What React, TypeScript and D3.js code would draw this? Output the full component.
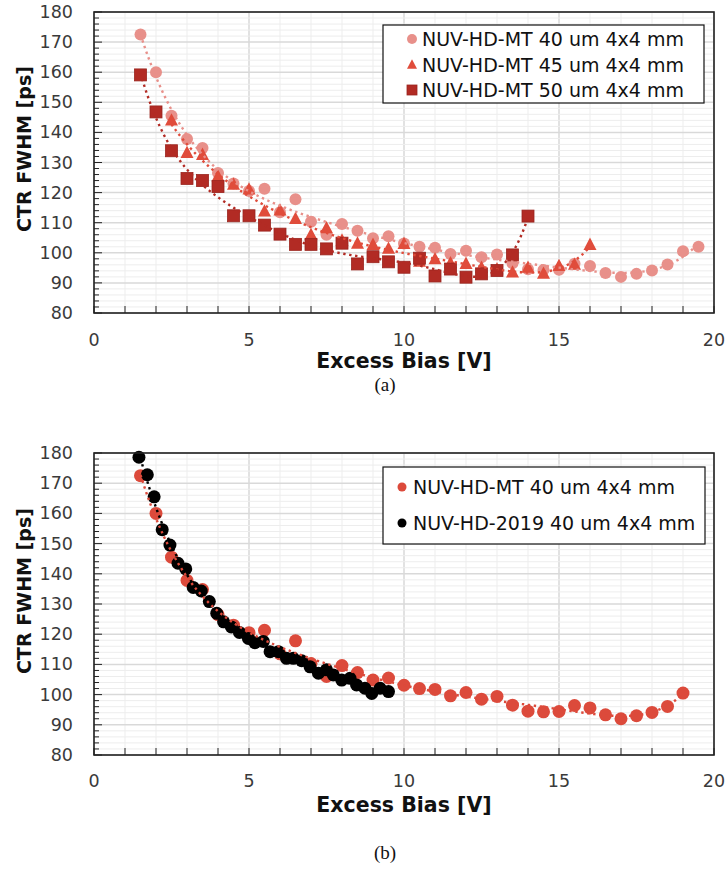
import React, { useEffect } from 'react';
import * as d3 from 'd3';

// ---------- data ----------
const x40 = [1.5, 2, 2.5, 3, 3.5, 4, 4.5, 5, 5.5, 6, 6.5, 7, 7.5, 8, 8.5, 9, 9.5, 10, 10.5, 11, 11.5, 12, 12.5, 13, 13.5, 14, 14.5, 15, 15.5, 16, 16.5, 17, 17.5, 18, 18.5, 19, 19.5];
const y40 = [172.5, 160, 145.5, 137.8, 134.8, 126.5, 123, 120.5, 121.3, 113.5, 117.8, 110.3, 106, 109.6, 107.3, 104.8, 105.5, 103.1, 102, 101.7, 99.6, 100.7, 98.5, 99.4, 96.5, 94.5, 94.3, 94.4, 96.4, 95.6, 93.3, 92.0, 93.0, 94.1, 96.1, 100.5, 102];

const x45 = [2.5, 3, 3.5, 4, 4.5, 5, 5.5, 6, 6.5, 7, 7.5, 8, 8.5, 9, 9.5, 10, 10.5, 11, 11.5, 12, 12.5, 13, 13.5, 14, 14.5, 15, 15.5, 16];
const y45 = [143.9, 133.1, 132.5, 125.3, 122.6, 121.0, 113.7, 114.0, 111.2, 105.9, 108.1, 104, 103.0, 102.6, 101.3, 102.9, 97, 97.8, 96.5, 96.3, 95, 94.5, 93.4, 95.0, 93.0, 95.6, 96.0, 102.6];

const x50 = [1.5, 2, 2.5, 3, 3.5, 4, 4.5, 5, 5.5, 6, 6.5, 7, 7.5, 8, 8.5, 9, 9.5, 10, 10.5, 11, 11.5, 12, 12.5, 13, 13.5, 14];
const y50 = [159.1, 146.8, 133.9, 124.7, 124.0, 122.0, 112.3, 112.3, 109.2, 106.2, 102.8, 102.8, 101.3, 103.2, 96.3, 98.7, 97.0, 95.2, 98.2, 92.3, 94.6, 91.9, 93.0, 94.1, 99.3, 112.2];

// bottom panel: MT 40 um (same measurement up to 19 V) and NUV-HD-2019
const xMT = x40.slice(0, 36);
const yMT = y40.slice(0, 36);

const x2019 = [1.45, 1.72, 1.94, 2.2, 2.45, 2.71, 2.96, 3.2, 3.46, 3.72, 3.96, 4.18, 4.43, 4.69, 4.98, 5.19, 5.46, 5.68, 5.95, 6.21, 6.43, 6.7, 6.97, 7.24, 7.5, 7.72, 7.99, 8.26, 8.47, 8.74, 8.96, 9.23, 9.5];
const y2019 = [178.6, 172.8, 165.5, 154.6, 149.5, 143.5, 141.6, 135.5, 134.3, 130.8, 126.9, 124.1, 122.4, 120.6, 118.6, 117.2, 117.6, 114.2, 114.2, 112, 112, 111.2, 109.2, 107.1, 108.2, 106.5, 104.8, 105.4, 103.2, 102.1, 100.4, 102.1, 101];

const xTicks = [0, 5, 10, 15, 20];
const yTicks = [80, 90, 100, 110, 120, 130, 140, 150, 160, 170, 180];

const labelsTop = ['NUV-HD-MT 40 um 4x4 mm', 'NUV-HD-MT 45 um 4x4 mm', 'NUV-HD-MT 50 um 4x4 mm'];
const labelsBottom = ['NUV-HD-MT 40 um 4x4 mm', 'NUV-HD-2019 40 um 4x4 mm'];

// ---------- helpers ----------
const FONT = "'DejaVu Sans', Verdana, sans-serif";

function polyfit(xs: number[], ys: number[], deg: number) {
  const mx = d3.mean(xs) as number;
  const sx = ((d3.max(xs) as number) - (d3.min(xs) as number)) / 2 || 1;
  const n = deg + 1;
  const A: number[][] = Array.from({ length: n }, () => new Array(n + 1).fill(0));
  xs.forEach((x, k) => {
    const t = (x - mx) / sx;
    const pw: number[] = [];
    for (let i = 0; i < 2 * n; i++) pw.push(Math.pow(t, i));
    for (let i = 0; i < n; i++) {
      for (let j = 0; j < n; j++) A[i][j] += pw[i + j];
      A[i][n] += ys[k] * pw[i];
    }
  });
  for (let c = 0; c < n; c++) {
    let p = c;
    for (let r = c + 1; r < n; r++) if (Math.abs(A[r][c]) > Math.abs(A[p][c])) p = r;
    [A[c], A[p]] = [A[p], A[c]];
    for (let r = 0; r < n; r++) {
      if (r === c) continue;
      const f = A[r][c] / A[c][c];
      for (let k = c; k <= n; k++) A[r][k] -= f * A[c][k];
    }
  }
  const coef = A.map((row, i) => row[n] / row[i]);
  return (x: number) => {
    const t = (x - mx) / sx;
    let s = 0;
    for (let i = n - 1; i >= 0; i--) s = s * t + coef[i];
    return s;
  };
}

type Shape = 'circle' | 'triangle' | 'square';
interface Series { xs: number[]; ys: number[]; shape: Shape; color: string; size: number; deg: number; }

function Marker({ shape, cx, cy, size, color }: { shape: Shape; cx: number; cy: number; size: number; color: string }) {
  if (shape === 'circle') return <circle cx={cx} cy={cy} r={size / 2} fill={color} />;
  if (shape === 'square') return <rect x={cx - size / 2} y={cy - size / 2} width={size} height={size} fill={color} stroke={d3.color(color)!.darker(0.4).toString()} strokeWidth={0.8} />;
  const h = size * 0.95;
  const pts = [[cx, cy - h * 0.6], [cx - size / 2, cy + h * 0.4], [cx + size / 2, cy + h * 0.4]];
  return <polygon points={pts.map(p => p.join(',')).join(' ')} fill={color} />;
}

interface PanelProps {
  top: number; bottom: number; series: Series[]; labels: string[];
  legend: { x0: number; y0: number; x1: number; y1: number; rows: number[]; mx: number; tx: number; msize: number };
  titleY: number; tickY: number; yTitleCY: number; caption: string; captionY: number;
}

function Panel(p: PanelProps) {
  const x = d3.scaleLinear().domain([0, 20]).range([94, 714]);
  const y = d3.scaleLinear().domain([80, 180]).range([p.bottom, p.top]);
  const minorX = d3.range(0, 21, 1);
  const minorY = d3.range(80, 181, 2);
  const line = d3.line<[number, number]>().x(d => x(d[0])).y(d => y(d[1]));
  return (
    <g>
      {/* grid */}
      {minorX.map(v => (
        <line key={'gx' + v} x1={x(v)} x2={x(v)} y1={p.top} y2={p.bottom}
          stroke={v % 5 === 0 ? '#d9d9d9' : '#ededed'} strokeWidth={v % 5 === 0 ? 1.5 : 1} />
      ))}
      {minorY.map(v => (
        <line key={'gy' + v} x1={94} x2={714} y1={y(v)} y2={y(v)}
          stroke={v % 10 === 0 ? '#d9d9d9' : '#ededed'} strokeWidth={v % 10 === 0 ? 1.5 : 1} />
      ))}
      {/* markers */}
      {p.series.map((s, si) => (
        <g key={'s' + si}>
          {s.xs.map((xv, i) => (
            <Marker key={i} shape={s.shape} cx={x(xv)} cy={y(s.ys[i])} size={s.size} color={s.color} />
          ))}
        </g>
      ))}
      {/* trend lines */}
      {p.series.map((s, si) => {
        const f = polyfit(s.xs, s.ys, s.deg);
        const lo = d3.min(s.xs) as number, hi = d3.max(s.xs) as number;
        const pts: [number, number][] = d3.range(0, 301).map(k => {
          const xv = lo + (hi - lo) * k / 300;
          return [xv, f(xv)];
        });
        return <path key={'t' + si} d={line(pts) || ''} fill="none" stroke={s.color} strokeWidth={2.4}
          strokeDasharray="2.4 3.6" />;
      })}
      {/* ticks */}
      {minorX.map(v => (
        <line key={'tx' + v} x1={x(v)} x2={x(v)} y1={p.bottom} y2={p.bottom - 7} stroke="#222" strokeWidth={1} />
      ))}
      {minorY.map(v => (
        <line key={'ty' + v} x1={94} x2={94 + (v % 10 === 0 ? 8 : 5)} y1={y(v)} y2={y(v)} stroke="#222" strokeWidth={1} />
      ))}
      <rect x={94} y={p.top} width={620} height={p.bottom - p.top} fill="none" stroke="#222" strokeWidth={1.6} />
      {/* tick labels */}
      {yTicks.map(v => (
        <text key={'yl' + v} x={73} y={y(v) + 6} textAnchor="end" fontFamily={FONT} fontSize={17.5} fill="#3a3a3a">{v}</text>
      ))}
      {xTicks.map(v => (
        <text key={'xl' + v} x={x(v)} y={p.tickY} textAnchor="middle" fontFamily={FONT} fontSize={17.5} fill="#3a3a3a">{v}</text>
      ))}
      {/* titles */}
      <text x={404} y={p.titleY} textAnchor="middle" fontFamily={FONT} fontWeight="bold" fontSize={20.5} fill="#111">Excess Bias [V]</text>
      <text transform={`translate(31,${p.yTitleCY}) rotate(-90)`} textAnchor="middle" fontFamily={FONT} fontWeight="bold" fontSize={19} fill="#111">CTR FWHM [ps]</text>
      {/* legend */}
      <rect x={p.legend.x0} y={p.legend.y0} width={p.legend.x1 - p.legend.x0} height={p.legend.y1 - p.legend.y0} fill="#fff" stroke="#111" strokeWidth={1.2} />
      {p.labels.map((lab, i) => (
        <g key={'lg' + i}>
          <Marker shape={p.series[i].shape} cx={p.legend.mx} cy={p.legend.rows[i]} size={p.legend.msize} color={p.series[i].color} />
          <text x={p.legend.tx} y={p.legend.rows[i] + 7} fontFamily={FONT} fontSize={19} fill="#111">{lab}</text>
        </g>
      ))}
      <text x={385} y={p.captionY} textAnchor="middle" fontFamily="'Liberation Serif', 'Times New Roman', serif" fontSize={19} fill="#111">{p.caption}</text>
    </g>
  );
}

export default function App() {
  useEffect(() => { document.body.style.margin = '0'; }, []);
  const topSeries: Series[] = [
    { xs: x40, ys: y40, shape: 'circle', color: '#E8908A', size: 12, deg: 6 },
    { xs: x45, ys: y45, shape: 'triangle', color: '#E04C3B', size: 13, deg: 6 },
    { xs: x50, ys: y50, shape: 'square', color: '#B22B24', size: 12, deg: 6 },
  ];
  const botSeries: Series[] = [
    { xs: xMT, ys: yMT, shape: 'circle', color: '#DC4A3B', size: 13, deg: 6 },
    { xs: x2019, ys: y2019, shape: 'circle', color: '#000000', size: 13, deg: 6 },
  ];
  return (
    <svg width={728} height={869} style={{ display: 'block', background: '#fff' }}>
      <Panel top={12} bottom={313} series={topSeries} labels={labelsTop}
        legend={{ x0: 383, y0: 25, x1: 704, y1: 103, rows: [39, 65, 90], mx: 412, tx: 422, msize: 10 }}
        titleY={368} tickY={346} yTitleCY={149} caption="(a)" captionY={391} />
      <Panel top={453} bottom={755} series={botSeries} labels={labelsBottom}
        legend={{ x0: 383, y0: 467, x1: 705, y1: 544, rows: [487, 523], mx: 402, tx: 413, msize: 9 }}
        titleY={812} tickY={787} yTitleCY={591} caption="(b)" captionY={859} />
    </svg>
  );
}
